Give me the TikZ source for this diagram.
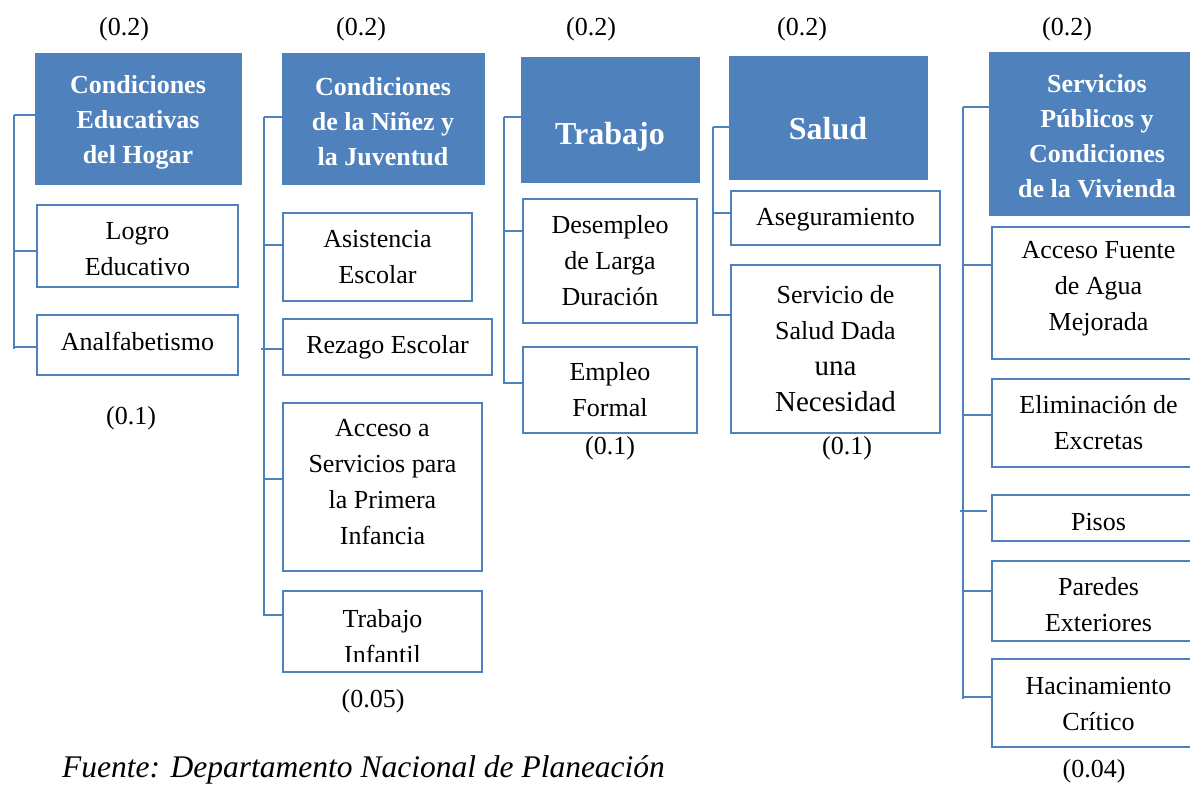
\documentclass[tikz,border=0pt]{standalone}
\usepackage{fontspec}
\setmainfont{Liberation Serif}
\usetikzlibrary{fit}
\definecolor{dblue}{HTML}{4F81BD}
\newcommand{\bigln}[1]{{\fontsize{29}{37}\selectfont #1}}
\begin{document}
\begin{tikzpicture}[x=1pt,y=-1pt,
  head/.style={fill=dblue, draw=dblue, line width=1pt, inner sep=0pt},
  htxt/.style={text=white, inner sep=0pt, align=center, font=\fontsize{26}{35}\selectfont\bfseries},
  bighead/.style={text=white, inner sep=0pt, font=\fontsize{32}{38}\selectfont\bfseries},
  box/.style={draw=dblue, line width=2pt, fill=white, inner sep=0pt},
  txt/.style={inner sep=0pt, align=center, font=\fontsize{26}{36}\selectfont},
  wt/.style={inner sep=0pt, font=\fontsize{26}{30}\selectfont},
  conn/.style={draw=dblue, line width=2pt}]
\useasboundingbox (0,0) rectangle (1190,784);
\clip (0,0) rectangle (1190,784);

% ---------- Group 1
\node[head, fit={(35,54) (241,184)}] (h1) {};
\node[htxt] (h1t) at ([yshift=-3pt]h1.center) {Condiciones\\Educativas\\del Hogar};
\node[box, fit={(37,205) (238,287)}] (b11) {};
\node[txt] (b11t) at ([yshift=-3.5pt]b11.center) {Logro\\Educativo};
\node[box, fit={(37,315) (238,375)}] (b12) {};
\node[txt] (b12t) at ([yshift=4pt]b12.center) {Analfabetismo};
\coordinate (k1a) at (14,115);
\coordinate (k1b) at (14,349);
\draw[conn] (k1a) -- (k1b);
\draw[conn] ([yshift=4pt]h1.west) -- ++(-21,0);
\draw[conn] ([yshift=-5pt]b11.west) -- ++(-23,0);
\draw[conn] ([yshift=-2pt]b12.west) -- ++(-23,0);

% ---------- Group 2
\node[head, fit={(282,54) (484,184)}] (h2) {};
\node[htxt] (h2t) at ([yshift=-3pt]h2.center) {Condiciones\\de la Niñez y\\la Juventud};
\node[box, fit={(283,213) (472,301)}] (b21) {};
\node[txt] (b21t) at (b21.center) {Asistencia\\Escolar};
\node[box, fit={(283,319) (492,375)}] (b22) {};
\node[txt] (b22t) at (b22.center) {Rezago Escolar};
\node[box, fit={(283,403) (482,571)}] (b23) {};
\node[txt] (b23t) at ([yshift=4.5pt]b23.center) {Acceso a\\Servicios para\\la Primera\\Infancia};
\node[box, fit={(283,591) (482,672)}] (b24) {};
\begin{scope}
\clip (283,591) rectangle (482,661);
\node[txt] (b24t) at ([yshift=-5pt]b24.center) {Trabajo\\Infantil};
\end{scope}
\coordinate (k2a) at (264,117);
\coordinate (k2b) at (264,615);
\draw[conn] (k2a) -- (k2b);
\draw[conn] ([yshift=2pt]h2.west) -- ++(-18,0);
\draw[conn] ([yshift=12pt]b21.west) -- ++(-19,0);
\draw[conn] ([yshift=-2pt]b22.west) -- ++(-21,0);
\draw[conn] ([yshift=8pt]b23.west) -- ++(-19,0);
\draw[conn] ([yshift=16.5pt]b24.west) -- ++(-19,0);

% ---------- Group 3
\node[head, fit={(521,58) (699,182)}] (h3) {};
\node[bighead] (h3t) at ([yshift=-17pt]h3.center) {Trabajo};
\node[box, fit={(523,199) (697,323)}] (b31) {};
\node[txt] (b31t) at (b31.center) {Desempleo\\de Larga\\Duración};
\node[box, fit={(523,347) (697,433)}] (b32) {};
\node[txt] (b32t) at (b32.center) {Empleo\\Formal};
\coordinate (k3a) at (504,117);
\coordinate (k3b) at (504,383);
\draw[conn] (k3a) -- (k3b);
\draw[conn] ([yshift=3pt]h3.west) -- ++(-17,0);
\draw[conn] ([yshift=30pt]b31.west) -- ++(-19,0);
\draw[conn] ([yshift=7pt]b32.west) -- ++(-19,0);

% ---------- Group 4
\node[head, fit={(729,57) (927,179)}] (h4) {};
\node[bighead] (h4t) at ([yshift=-11pt]h4.center) {Salud};
\node[box, fit={(731,191) (940,245)}] (b41) {};
\node[txt] (b41t) at ([yshift=-2pt]b41.center) {Aseguramiento};
\node[box, fit={(731,265) (940,433)}] (b42) {};
\node[txt] (b42t) at ([yshift=0pt]b42.center) {Servicio de\\Salud Dada\\\bigln{una}\\\bigln{Necesidad}};
\coordinate (k4a) at (713,127);
\coordinate (k4b) at (713,316);
\draw[conn] (k4a) -- (k4b);
\draw[conn] ([yshift=-9pt]h4.west) -- ++(-16,0);
\draw[conn] ([yshift=5pt]b41.west) -- ++(-18,0);
\draw[conn] ([yshift=34pt]b42.west) -- ++(-18,0);

% ---------- Group 5
\node[head, fit={(989,53) (1205,215)}] (h5) {};
\node[htxt] (h5t) at ([yshift=-2.5pt]h5.center) {Servicios\\Públicos y\\Condiciones\\de la Vivienda};
\node[box, fit={(992,227) (1205,359)}] (b51) {};
\node[txt] (b51t) at ([yshift=4pt]b51.center) {Acceso Fuente\\de Agua\\Mejorada};
\node[box, fit={(992,379) (1205,467)}] (b52) {};
\node[txt] (b52t) at (b52.center) {Eliminación de\\Excretas};
\node[box, fit={(992,495) (1205,541)}] (b53) {};
\node[txt] (b53t) at ([yshift=-4.5pt]b53.center) {Pisos};
\node[box, fit={(992,561) (1205,641)}] (b54) {};
\begin{scope}
\clip (992,561) rectangle (1205,631);
\node[txt] (b54t) at ([yshift=-4pt]b54.center) {Paredes\\Exteriores};
\end{scope}
\node[box, fit={(992,659) (1205,747)}] (b55) {};
\node[txt] (b55t) at ([yshift=-1pt]b55.center) {Hacinamiento\\Crítico};
\coordinate (k5a) at (963,107);
\coordinate (k5b) at (963,699);
\draw[conn] (k5a) -- (k5b);
\draw[conn] ([yshift=27pt]h5.west) -- ++(-26,0);
\draw[conn] ([yshift=28pt]b51.west) -- ++(-29,0);
\draw[conn] ([yshift=8pt]b52.west) -- ++(-29,0);
\draw[conn] ([yshift=7pt,xshift=-4pt]b53.west) -- ++(-27,0);
\draw[conn] ([yshift=10pt]b54.west) -- ++(-29,0);
\draw[conn] ([yshift=6pt]b55.west) -- ++(-29,0);

% ---------- weights
\node[wt] (w1) at (124,29) {(0.2)};
\node[wt] (w2) at (361,29) {(0.2)};
\node[wt] (w3) at (591,29) {(0.2)};
\node[wt] (w4) at (802,29) {(0.2)};
\node[wt] (w5) at (1067,29) {(0.2)};
\node[wt] (v1) at (131,418) {(0.1)};
\node[wt] (v2) at (373,701) {(0.05)};
\node[wt] (v3) at (610,448) {(0.1)};
\node[wt] (v4) at (847,448) {(0.1)};
\node[wt] (v5) at (1094,771) {(0.04)};
\node[wt, anchor=west, font=\fontsize{31.5}{36}\selectfont\itshape] (src) at (62,770) {Fuente: Departamento Nacional de Planeación};
\end{tikzpicture}
\end{document}
